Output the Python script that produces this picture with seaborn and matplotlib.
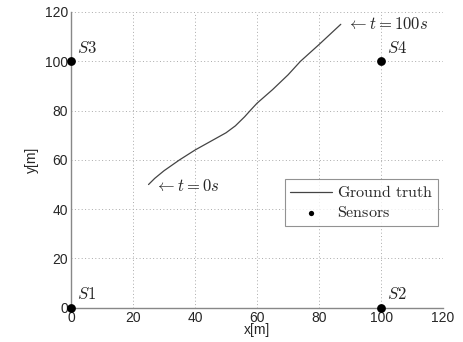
import matplotlib
matplotlib.use("Agg")
import matplotlib.pyplot as plt
import seaborn as sns
import pandas as pd

traj_x = [25, 27, 30, 35, 40, 45, 50, 53, 56, 58, 60, 65, 70, 74, 80, 87]
traj_y = [50, 52.5, 55.6, 60, 64, 67.5, 71, 73.8, 77.5, 80.3, 83, 88.5, 94.5, 100, 106.8, 115]

# Sensors
sensor_names = ["S1", "S2", "S3", "S4"]
sensor_x = [0, 100, 0, 100]
sensor_y = [0, 0, 100, 100]

ticks = [0, 20, 40, 60, 80, 100, 120]

sns.set_style("white")
plt.rcParams["font.family"] = ["Liberation Sans", "DejaVu Sans"]
plt.rcParams["mathtext.fontset"] = "cm"

fig = plt.figure(figsize=(4.64, 3.42), dpi=100)
ax = fig.add_axes([0.153, 0.100, 0.802, 0.865])

df_traj = pd.DataFrame({"x": traj_x, "y": traj_y})
df_sens = pd.DataFrame({"x": sensor_x, "y": sensor_y, "name": sensor_names})

sns.lineplot(data=df_traj, x="x", y="y", sort=False, ax=ax, color="#444444",
             linewidth=0.9, label=r"$\mathrm{Ground\ truth}$")
sns.scatterplot(data=df_sens, x="x", y="y", ax=ax, color="black", s=40,
                edgecolor="black", linewidth=0, label=r"$\mathrm{Sensors}$",
                clip_on=False, zorder=5)

for n, x, y in zip(sensor_names, sensor_x, sensor_y):
    ax.text(x + 2, y + 2.3, f"${n}$", fontsize=12, ha="left", va="bottom")

ax.text(89, 115.3, r"$\leftarrow t = 100s$", fontsize=12, ha="left", va="center")
ax.text(27, 49.5, r"$\leftarrow t = 0s$", fontsize=12, ha="left", va="center")

ax.set_xlim(0, 120)
ax.set_ylim(0, 120)
ax.set_xticks(ticks)
ax.set_yticks(ticks)
ax.tick_params(axis="both", labelsize=10, length=0, pad=2)
ax.set_xlabel("x[m]", fontsize=10, labelpad=-1)
ax.set_ylabel("y[m]", fontsize=10, labelpad=4)

ax.grid(True, linestyle=(0, (1, 2.5)), color="#aaaaaa", linewidth=0.7)
for s in ["top", "right"]:
    ax.spines[s].set_visible(False)
for s in ["left", "bottom"]:
    ax.spines[s].set_color("#888888")
    ax.spines[s].set_linewidth(1.0)

leg = ax.legend(loc="upper right", bbox_to_anchor=(0.987, 0.436), fontsize=11.5,
                frameon=True, fancybox=False, handlelength=2.6, markerscale=0.6,
                borderpad=0.35, labelspacing=0.3, handletextpad=0.3,
                borderaxespad=0)
leg.get_frame().set_edgecolor("#777777")
leg.get_frame().set_linewidth(0.8)

fig.savefig("out.png", dpi=100)
